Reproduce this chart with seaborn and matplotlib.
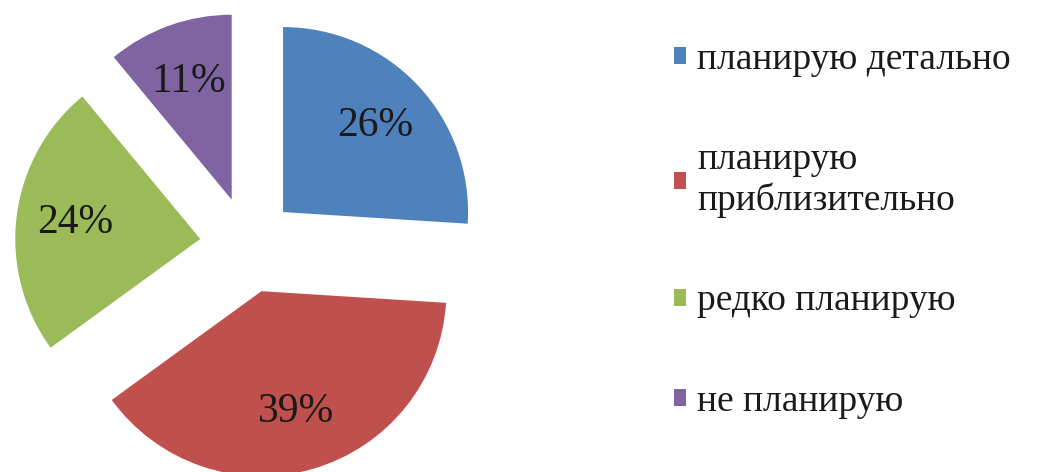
import matplotlib
matplotlib.use("Agg")
import matplotlib.pyplot as plt
import seaborn as sns

categories = ["планирую детально", "планирую\nприблизительно", "редко планирую", "не планирую"]
values = [26, 39, 24, 11]
colors_hex = ["#4F81BD", "#C0504D", "#9BBB59", "#8064A2"]

sns.set_theme(style="white")
plt.rcParams['font.family'] = ['Liberation Serif', 'DejaVu Serif']
palette = sns.color_palette(colors_hex)

W, H = 1043, 472
fig = plt.figure(figsize=(W / 100, H / 100), dpi=100)
fig.patch.set_facecolor("white")

# pie axes: center at pixel (248,245), radius 185 px
axw = 500
ax = fig.add_axes([0, 0, axw / W, 1])
r_px = 185.0
cx, cy = 248.0, 245.0

wedges, texts, autotexts = ax.pie(
    values,
    colors=palette,
    startangle=90,
    counterclock=False,
    explode=[0.26] * len(values),
    autopct=lambda p: f"{p:.0f}%",
    pctdistance=0.68,
    textprops=dict(fontsize=30, color="#1a1a1a"),
    wedgeprops=dict(linewidth=0),
)
ax.set_aspect("equal")
ax.set_xlim(-cx / r_px, (axw - cx) / r_px)
ax.set_ylim(-(H - cy) / r_px, cy / r_px)
ax.axis("off")

leg = fig.legend(
    wedges, categories,
    loc="upper left",
    bbox_to_anchor=(655 / W, 1 - 24 / H),
    frameon=False,
    fontsize=27,
    handlelength=0.32,
    handleheight=0.32,
    handletextpad=0.3,
    labelspacing=1.75,
    borderpad=0,
)
for t in leg.get_texts():
    t.set_color("#1a1a1a")

fig.savefig("out.png", dpi=100, facecolor="white")
